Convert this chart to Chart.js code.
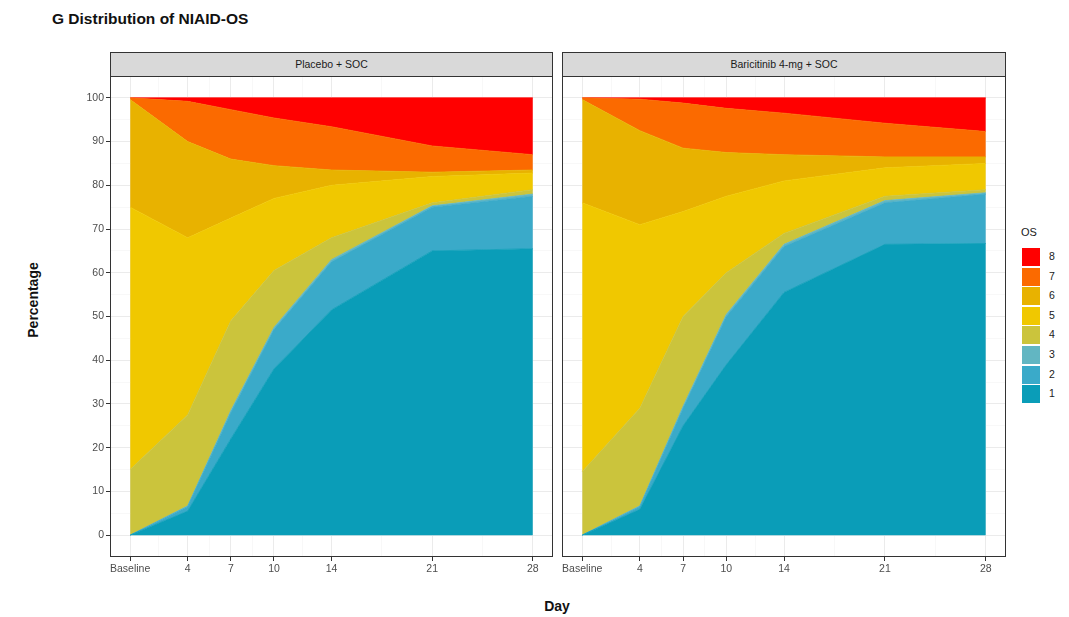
<!DOCTYPE html>
<html>
<head>
<meta charset="utf-8">
<script src="https://cdn.jsdelivr.net/npm/chart.js@4.4.1/dist/chart.umd.min.js"></script>
<style>
  html,body{margin:0;padding:0;background:#fff;}
  body{width:1069px;height:617px;position:relative;overflow:hidden;font-family:"Liberation Sans",Arial,sans-serif;}
  canvas{position:absolute;left:0;top:0;}
  .txt{position:absolute;white-space:nowrap;}
  .strip{position:absolute;box-sizing:border-box;border:1px solid #333;background:#d9d9d9;color:#1a1a1a;font-size:10.5px;text-align:center;}
  .key{position:absolute;width:18px;height:18px;}
  .klab{position:absolute;font-size:10.5px;color:#1a1a1a;}
</style>
</head>
<body>
<div class="txt" style="left:52px;top:10px;font-size:15.5px;font-weight:bold;color:#111;">G Distribution of NIAID-OS</div>
<div class="strip" style="left:110px;top:52px;width:443px;height:25px;line-height:23px;">Placebo + SOC</div>
<div class="strip" style="left:562px;top:52px;width:444px;height:25px;line-height:23px;">Baricitinib 4-mg + SOC</div>
<div class="txt" style="left:33px;top:300px;font-size:14px;font-weight:bold;color:#111;transform:translate(-50%,-50%) rotate(-90deg);">Percentage</div>
<div class="txt" style="left:557px;top:606px;font-size:14px;font-weight:bold;color:#111;transform:translate(-50%,-50%);">Day</div>
<div id="legend"></div>
<canvas id="c1" width="1069" height="617"></canvas>
<canvas id="c2" width="1069" height="617"></canvas>
<script>
// ---- data ----
const days = [0, 4, 7, 10, 14, 21, 28];
const dayLabels = ['Baseline', '4', '7', '10', '14', '21', '28'];
const osLevels = ['1', '2', '3', '4', '5', '6', '7', '8'];

// Placebo + SOC: percentage of patients in each OS category per day
const placeboOS1 = [0, 5.5, 22, 38, 51.5, 65, 65.5];
const placeboOS2 = [0, 1.0, 6, 9, 11, 10, 12];
const placeboOS3 = [0, 0.2, 0.5, 0.5, 0.5, 0.3, 0.5];
const placeboOS4 = [15, 20.8, 20.5, 13, 5, 0.7, 1];
const placeboOS5 = [60, 40.5, 23.5, 16.5, 12, 6, 3.8];
const placeboOS6 = [24.6, 22, 13.5, 7.5, 3.5, 1, 0.7];
const placeboOS7 = [0.4, 9.2, 11.3, 10.9, 9.9, 6, 3.5];
const placeboOS8 = [0, 0.8, 2.7, 4.6, 6.6, 11, 13];

// Baricitinib 4-mg + SOC
const bariOS1 = [0, 5.9, 25, 39, 55.5, 66.5, 66.7];
const bariOS2 = [0, 0.6, 4, 11, 10.5, 9.5, 11.3];
const bariOS3 = [0, 0.2, 0.5, 0.5, 0.5, 0.5, 0.3];
const bariOS4 = [14.5, 22.3, 20.5, 9.5, 2.5, 1, 0.7];
const bariOS5 = [61.5, 42, 24, 17.5, 12, 6.5, 6];
const bariOS6 = [23.6, 21.5, 14.5, 10, 6, 2.5, 1.5];
const bariOS7 = [0.4, 7.2, 10.3, 10.1, 9.5, 7.7, 5.8];
const bariOS8 = [0, 0.3, 1.2, 2.4, 3.5, 5.8, 7.7];

const yMajor = [0, 10, 20, 30, 40, 50, 60, 70, 80, 90, 100];
const yMinor = [5, 15, 25, 35, 45, 55, 65, 75, 85, 95];
const xMinor = [2, 5.5, 8.5, 12, 17.5, 24.5];

// ---- style ----
const osColors = ['#0a9db8', '#3aaac9', '#62b6c2', '#cbc43c', '#f0c800', '#e8b200', '#fb6a00', '#ff0000'];
const FONT = '"Liberation Sans", Arial, sans-serif';

const placeboSeries = [placeboOS1, placeboOS2, placeboOS3, placeboOS4, placeboOS5, placeboOS6, placeboOS7, placeboOS8];
const bariSeries = [bariOS1, bariOS2, bariOS3, bariOS4, bariOS5, bariOS6, bariOS7, bariOS8];

function buildDatasets(series) {
  return series.map((vals, i) => ({
    label: osLevels[i],
    data: days.map((d, j) => ({x: d, y: vals[j]})),
    backgroundColor: osColors[i],
    borderColor: osColors[i],
    borderWidth: 0.8,
    pointRadius: 0,
    tension: 0,
    fill: i === 0 ? 'origin' : '-1'
  }));
}

const panelBorder = {
  id: 'panelBorder',
  afterDraw(chart) {
    const {ctx, chartArea: a} = chart;
    ctx.save();
    ctx.strokeStyle = '#333';
    ctx.lineWidth = 1;
    ctx.strokeRect(Math.round(a.left) + 0.5, Math.round(a.top) + 0.5,
      Math.round(a.right - a.left) - 1, Math.round(a.bottom - a.top) - 1);
    ctx.restore();
  }
};

const isMajorX = v => days.includes(v);
const isMajorY = v => yMajor.includes(v);

function makeChart(id, series, showY, padding) {
  new Chart(document.getElementById(id), {
    type: 'line',
    data: {datasets: buildDatasets(series)},
    options: {
      responsive: false,
      animation: false,
      devicePixelRatio: 1,
      layout: {padding: padding},
      plugins: {legend: {display: false}, tooltip: {enabled: false}},
      elements: {line: {borderJoinStyle: 'miter'}},
      scales: {
        x: {
          type: 'linear',
          min: -1.4, max: 29.4,
          afterBuildTicks: s => { s.ticks = days.concat(xMinor).sort((a, b) => a - b).map(v => ({value: v})); },
          afterFit: s => { s.height = 25; },
          border: {display: false},
          grid: {
            color: c => isMajorX(c.tick.value) ? '#ebebeb' : '#f4f4f4',
            lineWidth: c => isMajorX(c.tick.value) ? 1 : 0.6,
            drawTicks: true,
            tickLength: 4,
            tickColor: c => isMajorX(c.tick.value) ? '#333' : 'rgba(0,0,0,0)',
            tickWidth: 1
          },
          ticks: {
            autoSkip: false, maxRotation: 0, minRotation: 0, padding: 2,
            color: '#4d4d4d', font: {family: FONT, size: 10.5},
            callback: v => { const i = days.indexOf(v); return i >= 0 ? dayLabels[i] : ''; }
          }
        },
        y: {
          stacked: true,
          min: -5, max: 105,
          afterBuildTicks: s => { s.ticks = yMajor.concat(yMinor).sort((a, b) => a - b).map(v => ({value: v})); },
          afterFit: s => { s.width = showY ? 30 : 0; },
          border: {display: false},
          grid: {
            color: c => isMajorY(c.tick.value) ? '#ebebeb' : '#f4f4f4',
            lineWidth: c => isMajorY(c.tick.value) ? 1 : 0.6,
            drawTicks: showY,
            tickLength: 4,
            tickColor: c => isMajorY(c.tick.value) ? '#333' : 'rgba(0,0,0,0)',
            tickWidth: 1
          },
          ticks: {
            display: showY, autoSkip: false, padding: 2,
            color: '#4d4d4d', font: {family: FONT, size: 10.5},
            callback: v => isMajorY(v) ? String(v) : ''
          }
        }
      }
    },
    plugins: [panelBorder]
  });
}

makeChart('c1', placeboSeries, true, {left: 80, right: 516, top: 76, bottom: 35});
makeChart('c2', bariSeries, false, {left: 562, right: 63, top: 76, bottom: 35});

// ---- legend ----
(function () {
  const lg = document.getElementById('legend');
  let html = '<div class="txt" style="left:1021px;top:226px;font-size:11px;color:#1a1a1a;">OS</div>';
  for (let k = 7; k >= 0; k--) {
    const top = 248 + (7 - k) * 19.6;
    html += '<div class="key" style="left:1022px;top:' + top + 'px;background:' + osColors[k] + ';"></div>';
    html += '<div class="klab" style="left:1049px;top:' + (top + 2) + 'px;">' + osLevels[k] + '</div>';
  }
  lg.innerHTML = html;
})();
</script>
</body>
</html>
